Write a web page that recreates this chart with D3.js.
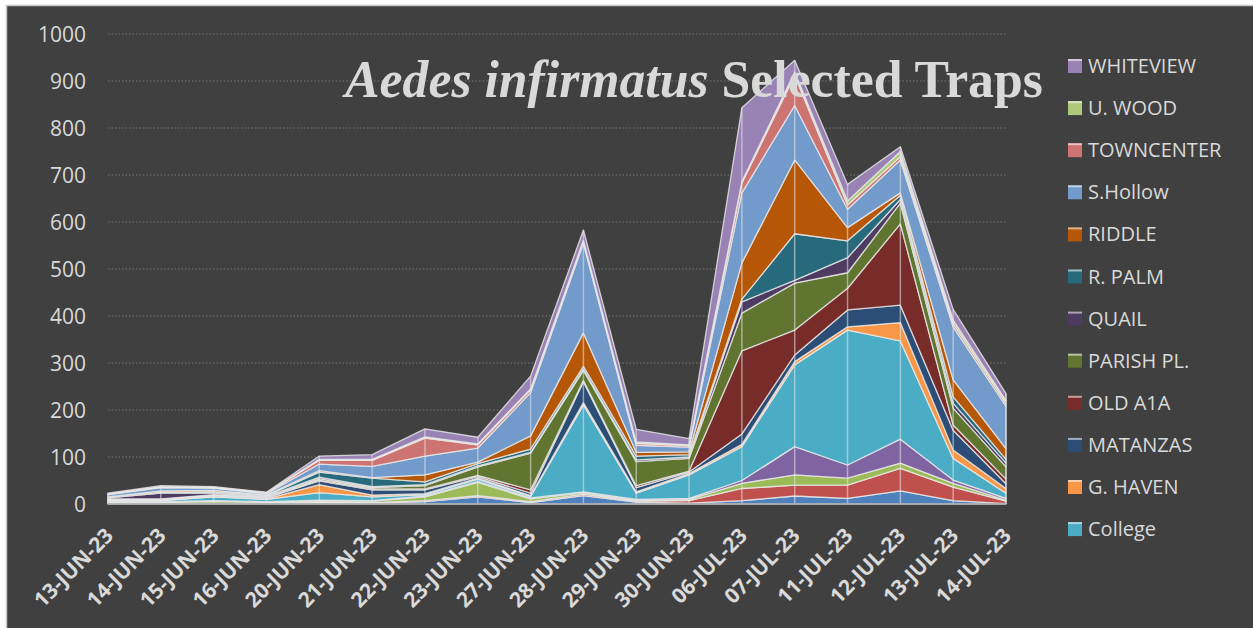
<!DOCTYPE html>
<html>
<head>
<meta charset="utf-8">
<script src="https://cdn.jsdelivr.net/npm/d3@7"></script>
<style>
  html, body { margin: 0; padding: 0; background: #ffffff; }
  svg { display: block; }
</style>
</head>
<body>
<svg id="chart" width="1253" height="628"></svg>
<script>
// ---------------- DATA ----------------
const categories = ["13-JUN-23","14-JUN-23","15-JUN-23","16-JUN-23","20-JUN-23","21-JUN-23","22-JUN-23","23-JUN-23","27-JUN-23","28-JUN-23","29-JUN-23","30-JUN-23","06-JUL-23","07-JUL-23","11-JUL-23","12-JUL-23","13-JUL-23","14-JUL-23"];

// series below College are not shown in the (truncated) legend
const hidden1    = [1,1,1,1,3,2,5,15,3,18,4,2,7,17,12,28,7,1];
const hidden2    = [1,1,1,1,1,1,2,3,2,3,2,5,26,23,28,48,29,5];
const hidden3    = [2,2,4,2,3,3,8,28,6,3,2,3,11,22,15,11,8,2];
const hidden4    = [1,1,1,1,1,1,2,2,2,2,2,2,6,60,28,51,7,4];
const college    = [2,2,8,5,16,8,3,5,3,185,13,50,72,174,287,209,46,11];
const gHaven     = [1,1,1,1,17,4,2,2,2,5,3,3,5,7,7,39,18,10];
const matanzas   = [1,1,2,2,8,11,8,3,5,44,9,3,22,14,36,37,42,10];
const oldA1A     = [1,1,1,1,2,2,2,3,7,3,4,2,177,53,46,173,11,10];
const parishPl   = [1,1,1,1,3,3,7,18,78,21,51,27,80,100,33,44,36,26];
const quail      = [2,12,3,1,3,2,2,2,2,3,4,3,24,6,32,8,10,8];
const rPalm      = [1,2,3,2,11,18,6,5,7,6,8,5,6,99,36,9,14,8];
const riddle     = [1,3,3,1,3,1,15,3,28,71,8,6,77,157,28,5,36,23];
const sHollow    = [5,7,5,3,14,24,40,30,92,191,15,10,149,116,39,70,113,90];
const townCenter = [1,1,1,1,8,13,38,7,6,4,4,3,21,64,9,7,7,6];
const uWood      = [1,1,1,1,2,2,3,2,2,2,3,2,3,7,9,11,7,6];
const whiteview  = [1,2,1,1,7,10,17,14,27,22,27,13,157,25,35,10,23,15];

const seriesNames  = ["Hidden 1","Hidden 2","Hidden 3","Hidden 4","College","G. HAVEN","MATANZAS","OLD A1A","PARISH PL.","QUAIL","R. PALM","RIDDLE","S.Hollow","TOWNCENTER","U. WOOD","WHITEVIEW"];
const seriesValues = [hidden1,hidden2,hidden3,hidden4,college,gHaven,matanzas,oldA1A,parishPl,quail,rPalm,riddle,sHollow,townCenter,uWood,whiteview];
const legendNames  = ["WHITEVIEW","U. WOOD","TOWNCENTER","S.Hollow","RIDDLE","R. PALM","QUAIL","PARISH PL.","OLD A1A","MATANZAS","G. HAVEN","College"];
const seriesColors = ["#4F81BD","#C0504D","#9BBB59","#8064A2","#4BACC6","#F79646","#2C4D75","#772C2A","#5F7530","#4D3B62","#276A7C","#B65708","#729ACA","#CD7371","#AFC97A","#9983B5"];
const yTicks = [0,100,200,300,400,500,600,700,800,900,1000];
const titleItalic = "Aedes infirmatus";
const titleRest = " Selected Traps";

// ---------------- LAYOUT ----------------
const svg = d3.select("#chart");
const W = 1253, H = 628;
const plot = {left: 108, right: 1006, top: 34, bottom: 504};

svg.append("rect").attr("x", 6.5).attr("y", 5.5).attr("width", W).attr("height", H)
   .attr("fill", "#404040").attr("stroke", "#c8c8c8").attr("stroke-width", 1.5);

const x = d3.scalePoint().domain(categories).range([plot.left, plot.right]);
const y = d3.scaleLinear().domain([0, 1000]).range([plot.bottom, plot.top]);

// gridlines
svg.append("g").selectAll("line").data(yTicks.filter(d => d > 0)).join("line")
  .attr("x1", plot.left).attr("x2", plot.right)
  .attr("y1", d => y(d)).attr("y2", d => y(d))
  .attr("stroke", "#646464").attr("stroke-width", 1.5).attr("stroke-dasharray", "1.5,2");

// y axis labels
const yAxis = d3.axisLeft(y).tickValues(yTicks).tickFormat(d3.format("d")).tickSize(0).tickPadding(0);
const yg = svg.append("g").attr("transform", `translate(${86},0)`).call(yAxis);
yg.select(".domain").remove();
yg.selectAll("text").attr("fill", "#d9d9d9").attr("font-family", "'Open Sans', sans-serif")
  .attr("font-size", 21).attr("dy", "0.35em");

// stacked data
const table = categories.map((c, i) => {
  const row = {cat: c};
  seriesNames.forEach((n, k) => row[n] = seriesValues[k][i]);
  return row;
});
const stack = d3.stack().keys(seriesNames);
const layers = stack(table);

const area = d3.area()
  .x(d => x(d.data.cat))
  .y0(d => y(d[0]))
  .y1(d => y(d[1]));

svg.append("g").selectAll("path").data(layers).join("path")
  .attr("d", area)
  .attr("fill", (d, i) => seriesColors[i])
  .attr("stroke", "rgba(235,235,235,0.8)")
  .attr("stroke-width", 1.3)
  .attr("stroke-linejoin", "round");

// drop lines
const totals = table.map(r => d3.sum(seriesNames, n => r[n]));
svg.append("g").selectAll("line").data(categories).join("line")
  .attr("x1", d => x(d)).attr("x2", d => x(d))
  .attr("y1", y(0)).attr("y2", (d, i) => y(totals[i]))
  .attr("stroke", "rgba(230,230,230,0.55)").attr("stroke-width", 1.5);

// x axis baseline
svg.append("line").attr("x1", plot.left).attr("x2", plot.right)
  .attr("y1", y(0)).attr("y2", y(0)).attr("stroke", "#a6a6a6").attr("stroke-width", 1.5);

// x axis labels
const xAxis = d3.axisBottom(x).tickSize(0).tickPadding(0);
const xg = svg.append("g").attr("transform", `translate(0,${plot.bottom})`).call(xAxis);
xg.select(".domain").remove();
xg.selectAll("text")
  .attr("fill", "#d9d9d9").attr("font-family", "'Open Sans', sans-serif")
  .attr("font-size", 21).attr("font-weight", "bold")
  .attr("text-anchor", "end").attr("dy", 0).attr("y", 0)
  .attr("transform", "translate(6,33) rotate(-45)");

// title
const title = svg.append("text").attr("x", 694).attr("y", 97)
  .attr("text-anchor", "middle").attr("fill", "#d9d9d9")
  .attr("font-family", "'Liberation Serif', serif").attr("font-weight", "bold").attr("font-size", 48);
title.append("tspan").attr("font-style", "italic").text(titleItalic);
title.append("tspan").text(titleRest);
const tl = title.node().getComputedTextLength();
if (tl > 0) title.attr("font-size", 48 * 698 / tl);

// legend
const leg = svg.append("g");
const items = leg.selectAll("g").data(legendNames).join("g")
  .attr("transform", (d, i) => `translate(1068,${66 + i * 42.1})`);
items.append("rect").attr("x", 0).attr("y", -7).attr("width", 14).attr("height", 14)
  .attr("fill", d => seriesColors[seriesNames.indexOf(d)]);
items.append("rect").attr("x", 0).attr("y", -7).attr("width", 14).attr("height", 2)
  .attr("fill", "rgba(255,255,255,0.55)");
items.append("text").attr("x", 20).attr("y", 0).attr("dy", "0.35em")
  .attr("fill", "#d9d9d9").attr("font-family", "'Open Sans', sans-serif").attr("font-size", 20)
  .text(d => d);
</script>
</body>
</html>
